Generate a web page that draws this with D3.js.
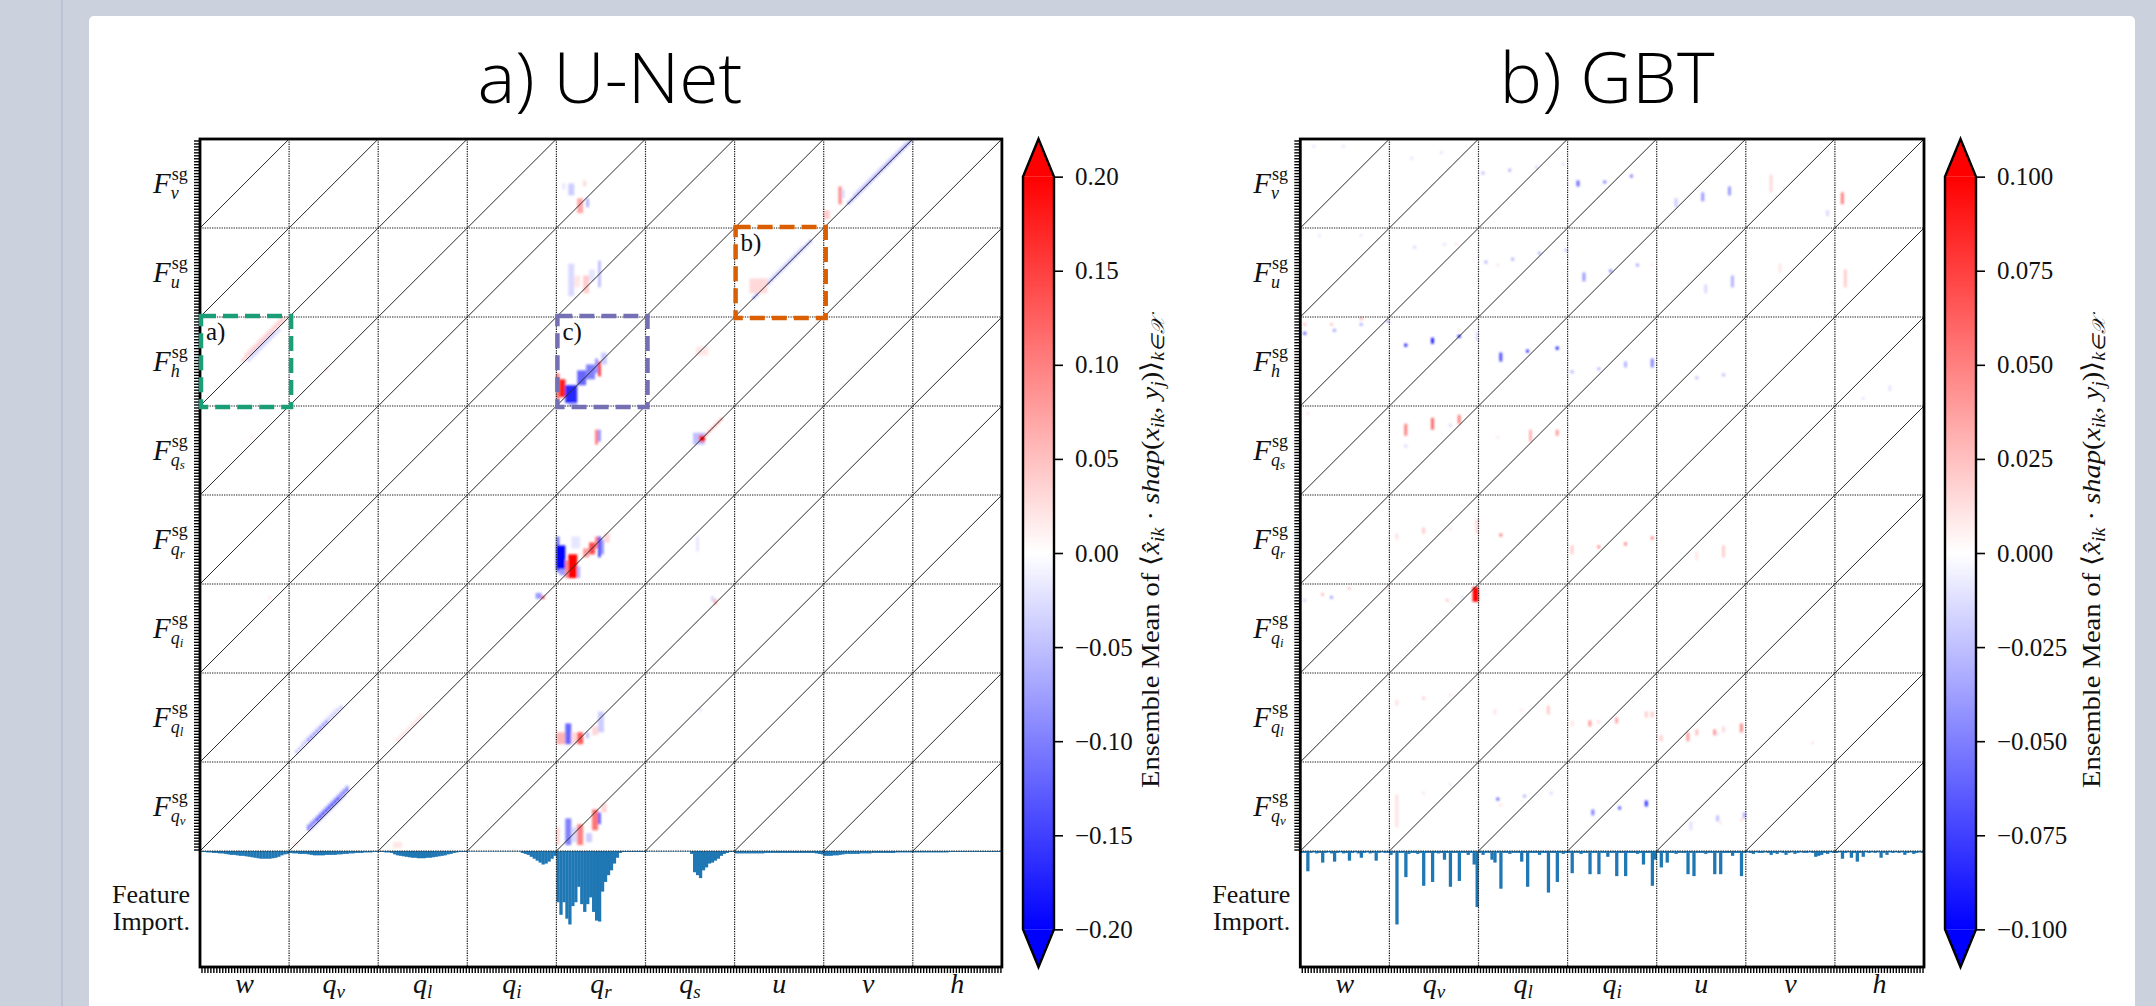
<!DOCTYPE html>
<html>
<head>
<meta charset="utf-8">
<script src="https://cdn.jsdelivr.net/npm/d3@7"></script>
<style>
  body { margin: 0; background: #cbd2de; }
  text { font-family: "Liberation Serif", "Times New Roman", serif; fill: #111; }
</style>
</head>
<body>
<svg id="fig" width="2156" height="1006"></svg>
<script>
// ---- data ----
// output variables (rows, top to bottom) and input variables (columns)
var outVars = ["v", "u", "h", "qs", "qr", "qi", "ql", "qv"];
var unetInputs = ["w", "qv", "ql", "qi", "qr", "qs", "u", "v", "h"];
var gbtInputs = ["w", "qv", "ql", "qi", "u", "v", "h"];
var nLev = 30; // vertical levels per variable

var unetTicks = [0.20, 0.15, 0.10, 0.05, 0.00, -0.05, -0.10, -0.15, -0.20];
var gbtTicks = [0.100, 0.075, 0.050, 0.025, 0.000, -0.025, -0.050, -0.075, -0.100];

// U-Net shap blobs: [output, input, level i0, level j0, nx, ny, value]
var unetPatches = [
  ["v", "qr", 4, 11, 2, 4, -0.04], ["v", "qr", 7, 5, 2, 5, 0.07], ["v", "qr", 10, 7, 1, 3, -0.06],
  ["v", "qr", 9, 14, 1, 2, 0.03], ["v", "qr", 2, 13, 1, 2, -0.02],
  ["u", "qr", 4, 7, 2, 11, -0.03], ["u", "qr", 9, 8, 2, 6, 0.04], ["u", "qr", 14, 10, 1, 9, -0.05],
  ["u", "qr", 6, 10, 2, 4, 0.02], ["u", "qr", 11, 12, 2, 4, -0.02],
  ["h", "qr", 0, 2, 1, 9, 0.12], ["h", "qr", 1, 3, 2, 6, 0.18], ["h", "qr", 3, 1, 4, 6, -0.17],
  ["h", "qr", 7, 7, 3, 5, -0.12], ["h", "qr", 10, 9, 3, 5, -0.1], ["h", "qr", 13, 11, 1, 5, -0.08],
  ["h", "qr", 14, 10, 1, 5, 0.15], ["h", "qr", 4, 0, 3, 1, -0.06], ["h", "qr", 15, 14, 2, 4, -0.04],
  ["h", "qs", 17, 17, 4, 3, 0.02], ["h", "qv", 12, 12, 1, 1, 0.03],
  ["qs", "qr", 13, 17, 1, 5, 0.1], ["qs", "qr", 14, 18, 1, 4, -0.08],
  ["qs", "qs", 16, 17, 4, 4, -0.05], ["qs", "qs", 18, 18, 2, 2, 0.2], ["qs", "w", 17, 19, 1, 1, 0.02],
  ["v", "v", 5, 8, 1, 6, 0.1], ["v", "v", 0, 3, 2, 3, 0.04], ["v", "v", 6, 10, 1, 3, -0.03],
  ["u", "u", 5, 8, 6, 5, 0.03],
  ["qi", "qi", 23, 25, 2, 2, -0.08], ["qi", "qi", 25, 25, 1, 1, 0.15],
  ["qi", "qs", 22, 24, 1, 2, -0.03], ["qi", "qs", 23, 23, 1, 2, 0.06], ["qi", "w", 23, 25, 1, 1, 0.02],
  ["qr", "qr", 0, 4, 1, 12, -0.12], ["qr", "qr", 0, 5, 3, 8, -0.2], ["qr", "qr", 1, 3, 2, 2, -0.08],
  ["qr", "qr", 4, 2, 3, 8, 0.2], ["qr", "qr", 3, 2, 1, 6, 0.1], ["qr", "qr", 7, 2, 1, 4, -0.06],
  ["qr", "qr", 9, 9, 2, 3, 0.08], ["qr", "qr", 11, 10, 2, 4, 0.14], ["qr", "qr", 13, 12, 1, 4, 0.1],
  ["qr", "qr", 14, 9, 1, 7, -0.14], ["qr", "qr", 15, 10, 1, 5, -0.08], ["qr", "qr", 16, 14, 2, 3, 0.03],
  ["qr", "qr", 5, 12, 3, 4, -0.02], ["qr", "qs", 17, 11, 1, 5, -0.02],
  ["ql", "qr", 0, 6, 3, 4, 0.06], ["ql", "qr", 3, 6, 2, 7, -0.12], ["ql", "qr", 5, 6, 2, 4, 0.03],
  ["ql", "qr", 7, 6, 2, 4, 0.13], ["ql", "qr", 10, 8, 1, 2, -0.05], ["ql", "qr", 14, 10, 2, 7, -0.04],
  ["ql", "qr", 12, 9, 2, 3, 0.03], ["ql", "qs", 18, 17, 1, 1, -0.02],
  ["qv", "qr", 0, 2, 1, 6, 0.04], ["qv", "qr", 3, 2, 2, 9, -0.1], ["qv", "qr", 5, 3, 2, 5, -0.03],
  ["qv", "qr", 7, 2, 2, 7, 0.1], ["qv", "qr", 10, 3, 2, 3, -0.04], ["qv", "qr", 12, 7, 2, 7, 0.11],
  ["qv", "qr", 14, 9, 1, 4, -0.12], ["qv", "qr", 15, 13, 2, 3, 0.03],
  ["qv", "qv", 1, 2, 2, 1, 0.02], ["qv", "ql", 5, 1, 3, 2, 0.02]
];
// U-Net streaks along the diagonal: [output, input, iStart, iEnd, level offset, value]
var unetBands = [
  ["h", "w", 14, 28, 1, 0.05], ["h", "w", 15, 27, 2, 0.03], ["h", "w", 16, 26, -1, -0.04], ["h", "w", 17, 24, 0, -0.03],
  ["qs", "qs", 19, 25, 0, 0.07],
  ["v", "v", 8, 29, 0, -0.09], ["v", "v", 10, 27, 1, -0.03],
  ["u", "u", 6, 25, 0, -0.07], ["u", "u", 8, 22, 1, -0.02],
  ["ql", "qv", 2, 17, 1, -0.05], ["ql", "qv", 6, 12, 1, -0.1], ["ql", "qv", 4, 15, 2, -0.02],
  ["ql", "ql", 6, 14, 1, 0.03],
  ["qv", "qv", 6, 19, 1, -0.12], ["qv", "qv", 9, 16, 1, -0.2], ["qv", "qv", 6, 19, 2, -0.08], ["qv", "qv", 7, 18, 0, -0.04]
];

// GBT shap spots: [output, input, level i0, level j0, nx, ny, value]
var gbtPatches = [
  ["v", "w", 4, 27, 1, 1, -0.01], ["v", "w", 14, 27, 1, 1, -0.01],
  ["v", "qv", 7, 23, 1, 1, -0.01], ["v", "qv", 17, 25, 1, 1, -0.01],
  ["v", "ql", 1, 18, 1, 1, -0.025], ["v", "ql", 10, 19, 1, 1, -0.03], ["v", "ql", 19, 20, 1, 1, -0.015], ["v", "ql", 28, 21, 1, 1, -0.012],
  ["v", "qi", 3, 14, 1, 2, -0.06], ["v", "qi", 12, 15, 1, 1, -0.05], ["v", "qi", 21, 17, 1, 1, -0.05],
  ["v", "u", 6, 7, 1, 3, -0.02], ["v", "u", 15, 9, 1, 3, -0.04], ["v", "u", 24, 11, 1, 3, -0.04],
  ["v", "v", 8, 12, 1, 6, 0.015], ["v", "v", 27, 4, 1, 2, -0.015], ["v", "h", 2, 8, 1, 4, 0.05],
  ["u", "w", 6, 27, 1, 1, -0.008], ["u", "w", 20, 27, 1, 1, -0.008],
  ["u", "qv", 8, 23, 1, 1, -0.015], ["u", "qv", 18, 24, 1, 1, -0.01], ["u", "qv", 22, 24, 1, 1, 0.01],
  ["u", "ql", 2, 18, 1, 1, -0.03], ["u", "ql", 6, 17, 1, 1, 0.01], ["u", "ql", 11, 19, 1, 1, -0.03],
  ["u", "ql", 20, 21, 1, 1, -0.03], ["u", "ql", 29, 22, 1, 1, -0.025],
  ["u", "qi", 5, 12, 1, 3, -0.04], ["u", "qi", 14, 15, 1, 1, -0.05], ["u", "qi", 23, 17, 1, 1, -0.035], ["u", "qi", 28, 17, 1, 1, 0.008],
  ["u", "u", 16, 8, 1, 3, -0.015], ["u", "u", 25, 10, 1, 4, -0.03],
  ["u", "v", 11, 15, 1, 3, 0.01], ["u", "v", 29, 4, 1, 1, -0.008], ["u", "h", 3, 10, 1, 6, 0.02],
  ["h", "w", 1, 27, 1, 1, 0.02], ["h", "w", 1, 24, 1, 1, -0.06], ["h", "w", 10, 27, 1, 1, 0.02], ["h", "w", 11, 25, 1, 1, -0.035],
  ["h", "w", 20, 29, 1, 1, 0.03], ["h", "w", 20, 27, 1, 1, -0.03], ["h", "w", 29, 28, 1, 1, -0.03],
  ["h", "qv", 5, 20, 1, 1, -0.09], ["h", "qv", 14, 21, 1, 2, -0.09], ["h", "qv", 23, 23, 1, 1, -0.09],
  ["h", "qv", 23, 25, 1, 1, 0.01], ["h", "qv", 29, 22, 1, 3, -0.012],
  ["h", "ql", 7, 15, 1, 3, -0.07], ["h", "ql", 16, 18, 1, 1, -0.08], ["h", "ql", 26, 19, 1, 1, -0.09],
  ["h", "qi", 1, 11, 1, 1, -0.03], ["h", "qi", 10, 12, 1, 1, -0.03], ["h", "qi", 19, 13, 1, 2, -0.03], ["h", "qi", 28, 13, 1, 3, -0.05],
  ["h", "u", 13, 9, 1, 1, -0.025], ["h", "u", 22, 10, 1, 1, -0.025],
  ["h", "h", 9, 2, 1, 1, -0.01], ["h", "h", 18, 5, 1, 2, -0.01],
  ["qs", "w", 2, 27, 1, 1, 0.01],
  ["qs", "qv", 5, 20, 1, 4, 0.05], ["qs", "qv", 14, 22, 1, 4, 0.06], ["qs", "qv", 23, 24, 1, 3, 0.05],
  ["qs", "qv", 20, 23, 1, 1, -0.015], ["qs", "qv", 5, 16, 1, 1, -0.015],
  ["qs", "ql", 17, 18, 1, 4, 0.03], ["qs", "ql", 26, 20, 1, 2, 0.04], ["qs", "ql", 6, 19, 1, 1, 0.008],
  ["qr", "qv", 2, 15, 1, 2, 0.012], ["qr", "qv", 11, 17, 1, 2, 0.02], ["qr", "qv", 20, 18, 1, 1, 0.01], ["qr", "qv", 29, 17, 1, 5, 0.015],
  ["qr", "ql", 7, 16, 1, 1, 0.05],
  ["qr", "qi", 1, 10, 1, 3, 0.02], ["qr", "qi", 10, 12, 1, 1, 0.045], ["qr", "qi", 19, 13, 1, 1, 0.05], ["qr", "qi", 28, 15, 1, 1, 0.05],
  ["qr", "u", 13, 8, 1, 3, 0.01], ["qr", "u", 22, 9, 1, 4, 0.02],
  ["qi", "w", 1, 24, 1, 1, -0.015], ["qi", "w", 7, 26, 1, 1, 0.025], ["qi", "w", 10, 25, 1, 1, -0.035],
  ["qi", "w", 16, 28, 1, 1, 0.02], ["qi", "w", 29, 28, 1, 1, 0.01],
  ["qi", "qv", 19, 24, 1, 1, 0.02], ["qi", "qv", 24, 25, 1, 1, -0.01], ["qi", "qv", 28, 24, 2, 5, 0.1],
  ["ql", "qv", 2, 19, 1, 2, 0.012], ["ql", "qv", 11, 21, 1, 1, 0.02], ["ql", "qv", 20, 22, 1, 1, 0.01],
  ["ql", "ql", 5, 16, 1, 2, 0.01], ["ql", "ql", 14, 17, 1, 1, 0.008], ["ql", "ql", 23, 16, 1, 3, 0.02],
  ["ql", "qi", 1, 12, 1, 2, 0.01], ["ql", "qi", 7, 12, 1, 2, 0.04], ["ql", "qi", 10, 13, 1, 1, 0.015],
  ["ql", "qi", 16, 13, 1, 2, 0.035], ["ql", "qi", 26, 15, 1, 2, 0.02], ["ql", "qi", 28, 15, 1, 2, 0.02],
  ["ql", "u", 1, 7, 1, 2, 0.02], ["ql", "u", 10, 7, 1, 3, 0.04], ["ql", "u", 13, 9, 1, 2, 0.025],
  ["ql", "u", 19, 9, 1, 2, 0.04], ["ql", "u", 22, 10, 1, 2, 0.015], ["ql", "u", 28, 10, 1, 3, 0.045],
  ["ql", "u", 20, 9, 1, 1, -0.01], ["ql", "v", 22, 6, 1, 1, 0.01],
  ["qv", "qv", 2, 8, 1, 11, 0.012], ["qv", "qv", 11, 19, 1, 1, 0.01], ["qv", "qv", 20, 22, 1, 1, -0.008],
  ["qv", "ql", 6, 17, 1, 1, -0.06], ["qv", "ql", 15, 18, 1, 1, -0.03], ["qv", "ql", 24, 19, 1, 1, -0.015], ["qv", "ql", 7, 15, 1, 1, 0.01],
  ["qv", "qi", 8, 12, 1, 2, -0.05], ["qv", "qi", 17, 14, 1, 1, -0.07], ["qv", "qi", 26, 15, 1, 2, -0.08],
  ["qv", "u", 11, 7, 1, 3, -0.012], ["qv", "u", 20, 10, 1, 2, -0.025], ["qv", "u", 29, 11, 1, 2, -0.03],
  ["qv", "u", 21, 9, 1, 1, 0.01], ["qv", "u", 28, 10, 1, 1, 0.012]
];

// feature importance per input column, one value per level (relative units)
var unetImportance = [
  [1, 1, 1.5, 1.5, 2, 2, 2.5, 2.5, 3, 3.5, 4, 4, 4.5, 5, 5, 5.5, 6, 6.5, 7, 7.5, 8, 8, 8, 8, 7.5, 7, 6, 4.5, 3.5, 3],
  [2, 2.5, 2.5, 3, 3, 3, 3.5, 4, 4.5, 4.5, 4.5, 4.5, 4, 4, 4, 4, 3.5, 3.5, 3, 3, 2.5, 2.5, 2, 2, 2, 1.5, 1.5, 1.5, 1, 1],
  [1, 1, 1.5, 1.5, 2, 3.5, 4.5, 5, 5.5, 6, 6.5, 7, 7, 7.5, 7.5, 7.5, 7, 7, 6.5, 6, 5.5, 5, 4.5, 3.5, 3, 2, 1.5, 1, 1, 1],
  [0.5, 0.5, 0.5, 0.5, 0.5, 0.5, 0.5, 0.5, 0.5, 0.5, 0.5, 0.5, 0.5, 0.5, 0.5, 0.5, 0.5, 0.5, 2, 3, 4, 6, 8, 10, 12, 14, 13, 11, 8, 5],
  [53, 66, 53, 70, 76, 57, 53, 37, 55, 63, 55, 48, 63, 72, 73, 42, 32, 25, 20, 13, 7, 2, 1, 1, 1, 1, 1, 1, 1, 1],
  [0.5, 0.5, 0.5, 0.5, 0.5, 0.5, 0.5, 0.5, 0.5, 0.5, 0.5, 0.5, 0.5, 0.5, 0.5, 3, 22, 25, 28, 20, 17, 13, 12, 10, 8, 5, 3, 2, 1, 1],
  [2.5, 2.5, 2.5, 2.5, 2.5, 2.5, 2.5, 2.5, 2.5, 2.5, 2, 2, 2, 2, 2, 2, 2, 2, 2, 2, 2, 2, 2, 2, 2, 2, 2, 2.5, 3, 3.5],
  [5, 5, 5, 4.5, 4.5, 4, 3.5, 3, 3, 3, 3, 3, 2.5, 2.5, 2.5, 2.5, 2, 2, 2, 2, 2, 2, 2, 2, 1.5, 1.5, 1.5, 1.5, 1.5, 1.5],
  [1.5, 1.5, 1.5, 1.5, 1.5, 1.5, 1.5, 1.5, 1.5, 1.5, 1.5, 1.5, 1, 1, 1, 1, 1, 1, 1, 1, 1, 1, 1, 1, 1, 1, 1, 1, 1, 1]
];
var gbtImportance = [
  [2, 2, 21, 2, 1.5, 2.5, 2, 12, 2, 1.5, 2.5, 11, 2, 1.5, 2.5, 2, 10, 2, 1.5, 2.5, 7, 2, 1.5, 2.5, 2, 10, 2, 1.5, 2, 2],
  [4, 2, 76, 2, 2, 27, 3, 2, 2, 3, 2, 36, 2, 2, 32, 2, 2.5, 2, 9, 2, 37, 2, 2, 31, 2, 2, 4, 2, 14, 58],
  [2, 4, 2, 2, 9, 12, 2, 39, 2, 2, 3, 2, 2, 2, 11, 2, 37, 2, 2, 2, 4, 2, 2, 43, 2, 2, 32, 2, 3, 2],
  [2, 23, 2, 2, 3, 2, 2, 24, 2, 2, 24, 2, 2, 6, 2, 2, 26, 2, 2, 26, 2, 2, 2, 3, 2, 14, 2, 2, 36, 9],
  [2, 17, 2, 12, 2, 2, 3, 2, 2, 2, 24, 2, 26, 2, 2, 2, 3, 2, 2, 24, 2, 24, 2, 2, 2, 5, 2, 2, 26, 2],
  [1.5, 2, 3, 1.5, 2, 2, 1.5, 2, 4, 2, 3, 1.5, 2, 4, 2, 1.5, 3, 2, 1.5, 2, 2, 1.5, 2, 6, 5, 4, 2, 3, 1.5, 2],
  [2, 1.5, 8, 2, 1.5, 7, 2, 11, 2, 6, 1.5, 2, 1.5, 2, 1.5, 7, 2, 4, 1.5, 2, 1.5, 2, 1.5, 4, 2, 1.5, 3, 2, 1.5, 2]
];

// ---- layout ----
var plotTop = 139, heatBottom = 851, plotBottom = 967;
var cellW = 89.1;
var subParts = { w: ["w"], v: ["v"], u: ["u"], h: ["h"], qs: ["q", "s"], qr: ["q", "r"], qi: ["q", "i"], ql: ["q", "l"], qv: ["q", "v"] };

var svg = d3.select("#fig");
var defs = svg.append("defs");
defs.append("filter").attr("id", "soft").attr("x", "-5%").attr("y", "-5%").attr("width", "110%").attr("height", "110%")
  .append("feGaussianBlur").attr("stdDeviation", 0.8);

// page background and card
svg.append("rect").attr("width", 2156).attr("height", 1006).attr("fill", "#cbd2de");
svg.append("rect").attr("x", 61).attr("y", 0).attr("width", 2).attr("height", 1006).attr("fill", "#b9c3d3");
svg.append("rect").attr("x", 89).attr("y", 16).attr("width", 2046).attr("height", 1030).attr("rx", 5).attr("fill", "#ffffff");

// F^sg_x as one text element: sub- and superscript stacked via dx
function rowLabel(g, xr, yc, name) {
  var parts = subParts[name];
  var t = g.append("text").attr("x", xr - 36).attr("y", yc + 9).attr("font-size", 29);
  t.append("tspan").attr("font-style", "italic").text("F");
  t.append("tspan").attr("font-size", 18).attr("dx", 1).attr("dy", -13).text("sg");
  t.append("tspan").attr("font-size", 18).attr("font-style", "italic").attr("dx", -17).attr("dy", 19.5).text(parts[0]);
  if (parts[1]) t.append("tspan").attr("font-size", 13).attr("font-style", "italic").attr("dy", 3).text(parts[1]);
}

function colLabel(g, xc, yb, name) {
  var parts = subParts[name];
  var t = g.append("text").attr("x", xc).attr("y", yb).attr("text-anchor", "middle")
    .attr("font-size", 28).attr("font-style", "italic");
  t.append("tspan").text(parts[0]);
  if (parts[1]) t.append("tspan").attr("font-size", 19).attr("dy", 5).text(parts[1]);
}

function drawPanel(p) {
  var g = svg.append("g");
  var nC = p.inputs.length, nR = outVars.length;
  var x = d3.scaleLinear().domain([0, nC * nLev]).range([p.left, p.left + nC * cellW]);
  var y = d3.scaleLinear().domain([0, nR * nLev]).range([heatBottom, plotTop]);
  var fy = d3.scaleLinear().domain([0, 120]).range([heatBottom, plotBottom]);
  var color = d3.scaleLinear().domain([-p.vmax, 0, p.vmax]).range(["#0000ff", "#ffffff", "#ff0000"]).clamp(true);

  function gx(input, i) { return p.inputs.indexOf(input) * nLev + i; }
  function gy(output, j) { return (nR - 1 - outVars.indexOf(output)) * nLev + j; }

  var cells = [];
  p.bands.forEach(function(b) {
    for (var i = b[2]; i <= b[3]; i++) {
      var j = i + b[4];
      if (j < 0 || j >= nLev) continue;
      cells.push({ gx: gx(b[1], i), gy: gy(b[0], j), w: 1, h: 1, v: b[5] });
    }
  });
  p.patches.forEach(function(d) {
    cells.push({ gx: gx(d[1], d[2]), gy: gy(d[0], d[3]), w: d[4], h: d[5], v: d[6] });
  });

  g.append("rect").attr("x", x(0)).attr("y", plotTop).attr("width", x(nC * nLev) - x(0))
    .attr("height", plotBottom - plotTop).attr("fill", "#fff");

  g.append("g").attr("filter", "url(#soft)").selectAll("rect").data(cells).join("rect")
    .attr("x", function(d) { return x(d.gx); })
    .attr("y", function(d) { return y(d.gy + d.h); })
    .attr("width", function(d) { return x(d.gx + d.w) - x(d.gx); })
    .attr("height", function(d) { return y(d.gy) - y(d.gy + d.h); })
    .attr("fill", function(d) { return color(d.v); });

  // feature importance bars (pointing down)
  var bars = [];
  p.importance.forEach(function(col, c) {
    col.forEach(function(v, i) { bars.push({ gx: c * nLev + i, v: v }); });
  });
  g.append("g").selectAll("rect").data(bars).join("rect")
    .attr("x", function(d) { return x(d.gx); })
    .attr("y", heatBottom)
    .attr("width", x(1) - x(0) + 0.3)
    .attr("height", function(d) { return fy(d.v) - heatBottom; })
    .attr("fill", "#1f77b4");

  // dotted cell grid
  var grid = g.append("g").attr("stroke", "#1a1a1a").attr("stroke-width", 1.2).attr("stroke-dasharray", "1.3,1.1");
  d3.range(1, nC).forEach(function(c) {
    grid.append("line").attr("x1", x(c * nLev)).attr("x2", x(c * nLev)).attr("y1", plotTop).attr("y2", plotBottom);
  });
  d3.range(0, nR).forEach(function(r) {
    grid.append("line").attr("x1", x(0)).attr("x2", x(nC * nLev)).attr("y1", y(r * nLev)).attr("y2", y(r * nLev));
  });

  // diagonal in every cell
  var diag = [];
  d3.range(nR).forEach(function(r) { d3.range(nC).forEach(function(c) { diag.push([r, c]); }); });
  g.append("g").selectAll("line").data(diag).join("line")
    .attr("x1", function(d) { return x(d[1] * nLev); })
    .attr("y1", function(d) { return y(d[0] * nLev); })
    .attr("x2", function(d) { return x((d[1] + 1) * nLev); })
    .attr("y2", function(d) { return y((d[0] + 1) * nLev); })
    .attr("stroke", "#2a2a2a").attr("stroke-width", 1);

  // dense level ticks, no labels
  var leftAxis = d3.axisLeft(y).tickValues(d3.range(0.5, nR * nLev, 1)).tickSize(6).tickFormat("");
  var la = g.append("g").attr("transform", "translate(" + x(0) + ",0)").call(leftAxis);
  la.select(".domain").remove();
  la.selectAll("text").remove();
  la.selectAll("line").attr("stroke-width", 1.4);
  var bottomAxis = d3.axisBottom(x).tickValues(d3.range(0.5, nC * nLev, 1)).tickSize(6).tickFormat("");
  var ba = g.append("g").attr("transform", "translate(0," + plotBottom + ")").call(bottomAxis);
  ba.select(".domain").remove();
  ba.selectAll("text").remove();
  ba.selectAll("line").attr("stroke-width", 1.4);

  // frame
  g.append("rect").attr("x", x(0)).attr("y", plotTop).attr("width", x(nC * nLev) - x(0))
    .attr("height", plotBottom - plotTop).attr("fill", "none").attr("stroke", "#000").attr("stroke-width", 2.8);

  // labels
  outVars.forEach(function(o) {
    rowLabel(g, x(0) - 11, y(gy(o, nLev / 2)), o);
  });
  p.inputs.forEach(function(inp, c) {
    colLabel(g, x(c * nLev + nLev / 2), 993, inp);
  });
  var fl = g.append("text").attr("text-anchor", "end").attr("font-size", 26);
  fl.append("tspan").attr("x", x(0) - 10).attr("y", 903).text("Feature");
  fl.append("tspan").attr("x", x(0) - 10).attr("y", 930).text("Import.");

  // title
  svg.append("text").attr("x", p.titleX).attr("y", 103).attr("text-anchor", "middle")
    .attr("font-size", 70).attr("font-weight", 300).attr("textLength", p.titleW).attr("lengthAdjust", "spacingAndGlyphs")
    .style("font-family", "'Open Sans', 'Noto Sans', sans-serif").style("fill", "#000").text(p.title);

  // highlight boxes
  (p.boxes || []).forEach(function(b) {
    var c = p.inputs.indexOf(b.input), r = nR - 1 - outVars.indexOf(b.output);
    var bx = x(c * nLev), by = y((r + 1) * nLev);
    g.append("rect").attr("x", bx + 1).attr("y", by - 1).attr("width", x(nLev) - x(0) + 1).attr("height", y(0) - y(nLev) + 2)
      .attr("fill", "none").attr("stroke", b.color).attr("stroke-width", 4.5).attr("stroke-dasharray", "15,7");
    g.append("text").attr("x", bx + 6).attr("y", by + 23).attr("font-size", 25).text(b.label);
  });

  drawColorbar(p.cbX, p.vmax, p.ticks, p.tickFmt, p.cbLabelX, color);
}

var cbCount = 0;
function drawColorbar(x0, vmax, ticks, fmt, labelX, color) {
  var w = 31, ext = (plotBottom - plotTop) / 22;
  var r0 = plotTop + ext, r1 = plotBottom - ext;
  var cy = d3.scaleLinear().domain([-vmax, vmax]).range([r1, r0]);
  var id = "cbgrad" + (cbCount++);
  var grad = defs.append("linearGradient").attr("id", id)
    .attr("x1", 0).attr("y1", 0).attr("x2", 0).attr("y2", 1);
  d3.range(0, 1.0001, 0.05).forEach(function(t) {
    grad.append("stop").attr("offset", t).attr("stop-color", color(vmax - t * 2 * vmax));
  });
  svg.append("rect").attr("x", x0).attr("y", r0).attr("width", w).attr("height", r1 - r0).attr("fill", "url(#" + id + ")");
  svg.append("path").attr("d", "M" + x0 + "," + r0 + "L" + (x0 + w / 2) + "," + plotTop + "L" + (x0 + w) + "," + r0 + "Z").attr("fill", color(vmax));
  svg.append("path").attr("d", "M" + x0 + "," + r1 + "L" + (x0 + w / 2) + "," + plotBottom + "L" + (x0 + w) + "," + r1 + "Z").attr("fill", color(-vmax));
  svg.append("path")
    .attr("d", "M" + x0 + "," + r0 + "L" + (x0 + w / 2) + "," + plotTop + "L" + (x0 + w) + "," + r0 +
      "L" + (x0 + w) + "," + r1 + "L" + (x0 + w / 2) + "," + plotBottom + "L" + x0 + "," + r1 + "Z")
    .attr("fill", "none").attr("stroke", "#000").attr("stroke-width", 2.4).attr("stroke-linejoin", "miter");

  var ax = d3.axisRight(cy).tickValues(ticks).tickSize(9).tickPadding(12)
    .tickFormat(function(d) { return d3.format(fmt)(d).replace("-", "\u2212"); });
  var a = svg.append("g").attr("transform", "translate(" + (x0 + w) + ",0)").call(ax);
  a.select(".domain").remove();
  a.selectAll("line").attr("stroke-width", 1.6);
  a.selectAll("text").attr("font-size", 25).style("font-family", "'Liberation Serif', serif").attr("fill", "#111");

  var lab = svg.append("text").attr("transform", "translate(" + labelX + ",553) rotate(-90)")
    .attr("text-anchor", "middle").attr("font-size", 26)
    .attr("textLength", 470).attr("lengthAdjust", "spacingAndGlyphs");
  lab.append("tspan").text("Ensemble Mean of \u27E8");
  lab.append("tspan").attr("font-style", "italic").text("x\u0302");
  lab.append("tspan").attr("font-style", "italic").attr("font-size", 18).attr("dy", 5).text("ik");
  lab.append("tspan").attr("dy", -5).text(" \u00B7 ");
  lab.append("tspan").attr("font-style", "italic").text("shap");
  lab.append("tspan").text("(");
  lab.append("tspan").attr("font-style", "italic").text("x");
  lab.append("tspan").attr("font-style", "italic").attr("font-size", 18).attr("dy", 5).text("ik");
  lab.append("tspan").attr("dy", -5).text(", ");
  lab.append("tspan").attr("font-style", "italic").text("y");
  lab.append("tspan").attr("font-style", "italic").attr("font-size", 18).attr("dy", 5).text("j");
  lab.append("tspan").attr("dy", -5).text(")\u27E9");
  lab.append("tspan").attr("font-style", "italic").attr("font-size", 18).attr("dy", 5).text("k\u2208\uD835\uDCB3");
}

drawPanel({
  title: "a) U-Net", titleX: 610, titleW: 265,
  left: 200, inputs: unetInputs, patches: unetPatches, bands: unetBands,
  importance: unetImportance, vmax: 0.2, ticks: unetTicks, tickFmt: ".2f",
  cbX: 1023, cbLabelX: 1159,
  boxes: [
    { output: "h", input: "w", color: "#1b9e77", label: "a)" },
    { output: "u", input: "u", color: "#d95f02", label: "b)" },
    { output: "h", input: "qr", color: "#7570b3", label: "c)" }
  ]
});

drawPanel({
  title: "b) GBT", titleX: 1607, titleW: 215,
  left: 1300.3, inputs: gbtInputs, patches: gbtPatches, bands: [],
  importance: gbtImportance, vmax: 0.1, ticks: gbtTicks, tickFmt: ".3f",
  cbX: 1945, cbLabelX: 2100
});
</script>
</body>
</html>
